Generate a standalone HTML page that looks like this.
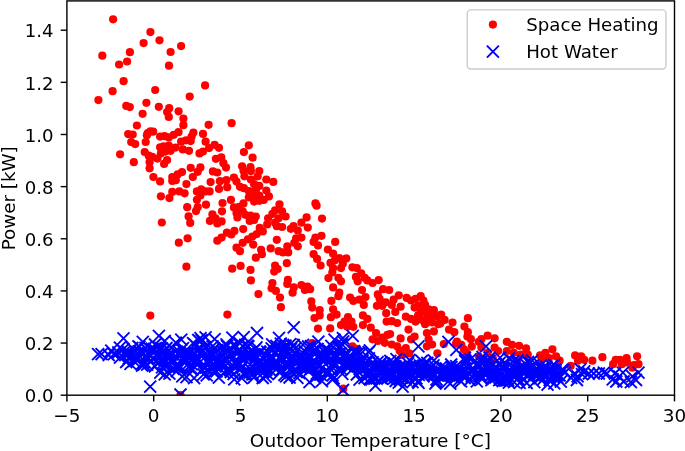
<!DOCTYPE html><html><head><meta charset="utf-8"><title>Power vs Outdoor Temperature</title>
<style>html,body{margin:0;padding:0;background:#fff;overflow:hidden}svg{display:block}text{font-family:"DejaVu Sans","Liberation Sans",sans-serif;fill:#000}</style></head><body>
<svg width="685" height="451" viewBox="0 0 685 451">
<rect width="685" height="451" fill="#fff"/>
<clipPath id="ax"><rect x="66.9" y="0.9" width="607.6" height="394.3"/></clipPath>
<g clip-path="url(#ax)">
<g fill="#ff0000">
<circle cx="113.1" cy="19.3" r="4.1"/>
<circle cx="150.4" cy="32.1" r="4.1"/>
<circle cx="159.5" cy="40.3" r="4.1"/>
<circle cx="143.6" cy="43.1" r="4.1"/>
<circle cx="181.1" cy="46.1" r="4.1"/>
<circle cx="129.9" cy="52.2" r="4.1"/>
<circle cx="170.6" cy="52.0" r="4.1"/>
<circle cx="102.3" cy="55.7" r="4.1"/>
<circle cx="127.1" cy="61.5" r="4.1"/>
<circle cx="119.1" cy="64.5" r="4.1"/>
<circle cx="169.0" cy="65.7" r="4.1"/>
<circle cx="123.6" cy="81.2" r="4.1"/>
<circle cx="112.6" cy="91.2" r="4.1"/>
<circle cx="98.4" cy="100.1" r="4.1"/>
<circle cx="155.2" cy="90.0" r="4.1"/>
<circle cx="205.1" cy="85.4" r="4.1"/>
<circle cx="189.7" cy="96.6" r="4.1"/>
<circle cx="126.3" cy="105.9" r="4.1"/>
<circle cx="129.8" cy="107.1" r="4.1"/>
<circle cx="146.4" cy="102.8" r="4.1"/>
<circle cx="158.8" cy="106.8" r="4.1"/>
<circle cx="142.6" cy="113.8" r="4.1"/>
<circle cx="169.2" cy="108.2" r="4.1"/>
<circle cx="167.1" cy="112.0" r="4.1"/>
<circle cx="168.8" cy="116.9" r="4.1"/>
<circle cx="178.6" cy="111.3" r="4.1"/>
<circle cx="183.4" cy="118.5" r="4.1"/>
<circle cx="183.4" cy="125.2" r="4.1"/>
<circle cx="136.9" cy="125.5" r="4.1"/>
<circle cx="208.6" cy="124.8" r="4.1"/>
<circle cx="128.2" cy="134.1" r="4.1"/>
<circle cx="132.7" cy="134.5" r="4.1"/>
<circle cx="147.8" cy="133.1" r="4.1"/>
<circle cx="150.4" cy="131.3" r="4.1"/>
<circle cx="153.1" cy="131.7" r="4.1"/>
<circle cx="146.9" cy="135.2" r="4.1"/>
<circle cx="160.1" cy="136.6" r="4.1"/>
<circle cx="164.5" cy="136.2" r="4.1"/>
<circle cx="168.8" cy="137.4" r="4.1"/>
<circle cx="173.7" cy="134.8" r="4.1"/>
<circle cx="178.5" cy="132.2" r="4.1"/>
<circle cx="193.4" cy="132.5" r="4.1"/>
<circle cx="191.6" cy="136.6" r="4.1"/>
<circle cx="203.0" cy="133.9" r="4.1"/>
<circle cx="131.2" cy="142.0" r="4.1"/>
<circle cx="135.2" cy="144.1" r="4.1"/>
<circle cx="145.7" cy="142.0" r="4.1"/>
<circle cx="120.1" cy="154.3" r="4.1"/>
<circle cx="133.8" cy="162.2" r="4.1"/>
<circle cx="144.7" cy="152.0" r="4.1"/>
<circle cx="148.7" cy="155.7" r="4.1"/>
<circle cx="152.2" cy="156.9" r="4.1"/>
<circle cx="149.6" cy="162.2" r="4.1"/>
<circle cx="149.6" cy="168.3" r="4.1"/>
<circle cx="157.4" cy="158.6" r="4.1"/>
<circle cx="160.1" cy="147.3" r="4.1"/>
<circle cx="163.6" cy="146.4" r="4.1"/>
<circle cx="168.8" cy="145.5" r="4.1"/>
<circle cx="165.3" cy="151.6" r="4.1"/>
<circle cx="170.6" cy="150.8" r="4.1"/>
<circle cx="175.5" cy="147.6" r="4.1"/>
<circle cx="160.9" cy="153.4" r="4.1"/>
<circle cx="181.1" cy="141.7" r="4.1"/>
<circle cx="186.0" cy="140.3" r="4.1"/>
<circle cx="190.7" cy="141.1" r="4.1"/>
<circle cx="182.8" cy="149.4" r="4.1"/>
<circle cx="189.0" cy="150.8" r="4.1"/>
<circle cx="205.6" cy="141.7" r="4.1"/>
<circle cx="199.5" cy="153.4" r="4.1"/>
<circle cx="203.0" cy="151.6" r="4.1"/>
<circle cx="209.1" cy="148.1" r="4.1"/>
<circle cx="167.1" cy="160.1" r="4.1"/>
<circle cx="164.1" cy="163.9" r="4.1"/>
<circle cx="153.4" cy="177.0" r="4.1"/>
<circle cx="160.1" cy="181.4" r="4.1"/>
<circle cx="190.7" cy="167.8" r="4.1"/>
<circle cx="200.4" cy="167.4" r="4.1"/>
<circle cx="197.7" cy="171.8" r="4.1"/>
<circle cx="192.8" cy="177.0" r="4.1"/>
<circle cx="182.0" cy="172.1" r="4.1"/>
<circle cx="177.6" cy="174.4" r="4.1"/>
<circle cx="172.3" cy="177.0" r="4.1"/>
<circle cx="175.8" cy="180.2" r="4.1"/>
<circle cx="172.3" cy="180.9" r="4.1"/>
<circle cx="186.4" cy="184.1" r="4.1"/>
<circle cx="160.9" cy="196.3" r="4.1"/>
<circle cx="169.4" cy="198.1" r="4.1"/>
<circle cx="172.3" cy="191.9" r="4.1"/>
<circle cx="179.3" cy="191.4" r="4.1"/>
<circle cx="184.6" cy="193.3" r="4.1"/>
<circle cx="196.9" cy="191.4" r="4.1"/>
<circle cx="201.2" cy="189.3" r="4.1"/>
<circle cx="205.6" cy="191.4" r="4.1"/>
<circle cx="200.4" cy="195.4" r="4.1"/>
<circle cx="196.9" cy="199.8" r="4.1"/>
<circle cx="209.6" cy="191.4" r="4.1"/>
<circle cx="206.0" cy="204.7" r="4.1"/>
<circle cx="187.2" cy="207.2" r="4.1"/>
<circle cx="197.7" cy="207.2" r="4.1"/>
<circle cx="196.0" cy="211.1" r="4.1"/>
<circle cx="188.6" cy="216.4" r="4.1"/>
<circle cx="190.2" cy="222.9" r="4.1"/>
<circle cx="161.8" cy="222.5" r="4.1"/>
<circle cx="187.6" cy="238.3" r="4.1"/>
<circle cx="178.8" cy="242.7" r="4.1"/>
<circle cx="186.4" cy="266.7" r="4.1"/>
<circle cx="150.3" cy="315.6" r="4.1"/>
<circle cx="231.6" cy="123.2" r="4.1"/>
<circle cx="214.6" cy="144.8" r="4.1"/>
<circle cx="219.0" cy="147.8" r="4.1"/>
<circle cx="248.8" cy="145.3" r="4.1"/>
<circle cx="243.9" cy="152.1" r="4.1"/>
<circle cx="252.6" cy="157.6" r="4.1"/>
<circle cx="215.9" cy="158.8" r="4.1"/>
<circle cx="221.3" cy="157.4" r="4.1"/>
<circle cx="223.4" cy="163.2" r="4.1"/>
<circle cx="226.0" cy="167.6" r="4.1"/>
<circle cx="212.9" cy="171.4" r="4.1"/>
<circle cx="217.3" cy="172.5" r="4.1"/>
<circle cx="242.1" cy="166.3" r="4.1"/>
<circle cx="250.5" cy="167.2" r="4.1"/>
<circle cx="250.9" cy="171.1" r="4.1"/>
<circle cx="243.5" cy="170.7" r="4.1"/>
<circle cx="259.3" cy="171.1" r="4.1"/>
<circle cx="257.6" cy="176.3" r="4.1"/>
<circle cx="244.4" cy="176.3" r="4.1"/>
<circle cx="233.9" cy="177.5" r="4.1"/>
<circle cx="236.5" cy="181.6" r="4.1"/>
<circle cx="210.6" cy="182.1" r="4.1"/>
<circle cx="219.9" cy="181.2" r="4.1"/>
<circle cx="226.4" cy="180.2" r="4.1"/>
<circle cx="227.2" cy="187.2" r="4.1"/>
<circle cx="266.3" cy="179.5" r="4.1"/>
<circle cx="273.3" cy="181.9" r="4.1"/>
<circle cx="250.9" cy="179.5" r="4.1"/>
<circle cx="254.1" cy="184.2" r="4.1"/>
<circle cx="259.3" cy="185.9" r="4.1"/>
<circle cx="240.0" cy="186.8" r="4.1"/>
<circle cx="243.9" cy="188.2" r="4.1"/>
<circle cx="219.0" cy="188.9" r="4.1"/>
<circle cx="248.8" cy="191.1" r="4.1"/>
<circle cx="255.8" cy="190.3" r="4.1"/>
<circle cx="266.3" cy="190.6" r="4.1"/>
<circle cx="252.3" cy="195.5" r="4.1"/>
<circle cx="259.3" cy="195.5" r="4.1"/>
<circle cx="268.9" cy="196.4" r="4.1"/>
<circle cx="263.7" cy="199.9" r="4.1"/>
<circle cx="254.1" cy="201.6" r="4.1"/>
<circle cx="248.8" cy="197.3" r="4.1"/>
<circle cx="259.3" cy="200.8" r="4.1"/>
<circle cx="230.9" cy="199.9" r="4.1"/>
<circle cx="222.5" cy="203.0" r="4.1"/>
<circle cx="222.0" cy="211.3" r="4.1"/>
<circle cx="243.5" cy="203.4" r="4.1"/>
<circle cx="233.9" cy="207.4" r="4.1"/>
<circle cx="239.2" cy="206.9" r="4.1"/>
<circle cx="236.5" cy="213.0" r="4.1"/>
<circle cx="242.7" cy="211.3" r="4.1"/>
<circle cx="245.3" cy="214.8" r="4.1"/>
<circle cx="237.4" cy="217.4" r="4.1"/>
<circle cx="250.5" cy="215.7" r="4.1"/>
<circle cx="255.8" cy="216.5" r="4.1"/>
<circle cx="249.7" cy="220.9" r="4.1"/>
<circle cx="254.1" cy="220.0" r="4.1"/>
<circle cx="212.4" cy="214.4" r="4.1"/>
<circle cx="209.9" cy="220.9" r="4.1"/>
<circle cx="217.3" cy="223.5" r="4.1"/>
<circle cx="221.6" cy="221.4" r="4.1"/>
<circle cx="215.5" cy="218.3" r="4.1"/>
<circle cx="279.5" cy="204.3" r="4.1"/>
<circle cx="275.1" cy="210.4" r="4.1"/>
<circle cx="282.1" cy="211.3" r="4.1"/>
<circle cx="272.4" cy="213.9" r="4.1"/>
<circle cx="285.6" cy="216.5" r="4.1"/>
<circle cx="268.1" cy="218.3" r="4.1"/>
<circle cx="278.6" cy="218.3" r="4.1"/>
<circle cx="275.1" cy="222.7" r="4.1"/>
<circle cx="267.2" cy="224.4" r="4.1"/>
<circle cx="282.1" cy="227.0" r="4.1"/>
<circle cx="276.8" cy="226.2" r="4.1"/>
<circle cx="315.4" cy="203.4" r="4.1"/>
<circle cx="316.6" cy="205.7" r="4.1"/>
<circle cx="306.6" cy="217.4" r="4.1"/>
<circle cx="322.0" cy="218.6" r="4.1"/>
<circle cx="301.4" cy="222.7" r="4.1"/>
<circle cx="307.8" cy="227.6" r="4.1"/>
<circle cx="293.5" cy="226.2" r="4.1"/>
<circle cx="290.8" cy="228.8" r="4.1"/>
<circle cx="297.8" cy="230.5" r="4.1"/>
<circle cx="259.7" cy="227.9" r="4.1"/>
<circle cx="262.8" cy="231.4" r="4.1"/>
<circle cx="256.7" cy="234.1" r="4.1"/>
<circle cx="252.3" cy="236.7" r="4.1"/>
<circle cx="247.9" cy="239.3" r="4.1"/>
<circle cx="242.7" cy="242.8" r="4.1"/>
<circle cx="253.2" cy="244.6" r="4.1"/>
<circle cx="243.2" cy="229.1" r="4.1"/>
<circle cx="234.4" cy="230.9" r="4.1"/>
<circle cx="231.3" cy="234.4" r="4.1"/>
<circle cx="226.9" cy="232.6" r="4.1"/>
<circle cx="221.6" cy="237.6" r="4.1"/>
<circle cx="217.3" cy="240.7" r="4.1"/>
<circle cx="276.8" cy="239.8" r="4.1"/>
<circle cx="296.1" cy="238.4" r="4.1"/>
<circle cx="301.4" cy="237.6" r="4.1"/>
<circle cx="294.3" cy="242.8" r="4.1"/>
<circle cx="297.8" cy="246.3" r="4.1"/>
<circle cx="315.4" cy="237.6" r="4.1"/>
<circle cx="321.5" cy="235.8" r="4.1"/>
<circle cx="313.6" cy="241.9" r="4.1"/>
<circle cx="318.0" cy="245.4" r="4.1"/>
<circle cx="287.3" cy="246.3" r="4.1"/>
<circle cx="270.7" cy="248.4" r="4.1"/>
<circle cx="278.6" cy="251.2" r="4.1"/>
<circle cx="283.0" cy="252.4" r="4.1"/>
<circle cx="288.2" cy="252.4" r="4.1"/>
<circle cx="236.5" cy="247.7" r="4.1"/>
<circle cx="240.0" cy="251.2" r="4.1"/>
<circle cx="261.1" cy="249.8" r="4.1"/>
<circle cx="261.9" cy="254.2" r="4.1"/>
<circle cx="255.8" cy="257.7" r="4.1"/>
<circle cx="313.6" cy="254.2" r="4.1"/>
<circle cx="317.1" cy="258.9" r="4.1"/>
<circle cx="232.2" cy="268.7" r="4.1"/>
<circle cx="240.6" cy="265.9" r="4.1"/>
<circle cx="250.5" cy="269.9" r="4.1"/>
<circle cx="250.9" cy="280.4" r="4.1"/>
<circle cx="275.1" cy="265.5" r="4.1"/>
<circle cx="277.7" cy="269.0" r="4.1"/>
<circle cx="274.2" cy="271.6" r="4.1"/>
<circle cx="286.8" cy="263.2" r="4.1"/>
<circle cx="320.6" cy="265.5" r="4.1"/>
<circle cx="272.4" cy="283.0" r="4.1"/>
<circle cx="271.6" cy="288.3" r="4.1"/>
<circle cx="275.9" cy="290.9" r="4.1"/>
<circle cx="287.9" cy="279.9" r="4.1"/>
<circle cx="287.3" cy="283.9" r="4.1"/>
<circle cx="293.8" cy="287.4" r="4.1"/>
<circle cx="292.6" cy="292.7" r="4.1"/>
<circle cx="301.4" cy="285.1" r="4.1"/>
<circle cx="307.5" cy="286.5" r="4.1"/>
<circle cx="310.1" cy="289.2" r="4.1"/>
<circle cx="304.9" cy="290.0" r="4.1"/>
<circle cx="258.4" cy="294.1" r="4.1"/>
<circle cx="280.0" cy="297.6" r="4.1"/>
<circle cx="280.9" cy="307.2" r="4.1"/>
<circle cx="311.3" cy="301.4" r="4.1"/>
<circle cx="312.2" cy="307.6" r="4.1"/>
<circle cx="319.7" cy="310.2" r="4.1"/>
<circle cx="319.7" cy="315.4" r="4.1"/>
<circle cx="314.5" cy="318.1" r="4.1"/>
<circle cx="318.0" cy="328.6" r="4.1"/>
<circle cx="227.4" cy="314.6" r="4.1"/>
<circle cx="335.2" cy="241.9" r="4.1"/>
<circle cx="327.9" cy="249.5" r="4.1"/>
<circle cx="333.1" cy="253.7" r="4.1"/>
<circle cx="339.3" cy="258.2" r="4.1"/>
<circle cx="346.3" cy="258.4" r="4.1"/>
<circle cx="330.5" cy="262.9" r="4.1"/>
<circle cx="334.9" cy="260.3" r="4.1"/>
<circle cx="342.8" cy="263.8" r="4.1"/>
<circle cx="333.1" cy="268.1" r="4.1"/>
<circle cx="341.0" cy="268.1" r="4.1"/>
<circle cx="332.3" cy="272.5" r="4.1"/>
<circle cx="328.4" cy="278.1" r="4.1"/>
<circle cx="338.4" cy="277.8" r="4.1"/>
<circle cx="341.0" cy="281.3" r="4.1"/>
<circle cx="333.1" cy="287.4" r="4.1"/>
<circle cx="339.3" cy="292.7" r="4.1"/>
<circle cx="338.4" cy="296.2" r="4.1"/>
<circle cx="331.4" cy="300.9" r="4.1"/>
<circle cx="333.1" cy="309.3" r="4.1"/>
<circle cx="336.6" cy="314.6" r="4.1"/>
<circle cx="330.9" cy="317.2" r="4.1"/>
<circle cx="352.4" cy="267.3" r="4.1"/>
<circle cx="356.8" cy="268.1" r="4.1"/>
<circle cx="361.2" cy="273.4" r="4.1"/>
<circle cx="355.9" cy="276.9" r="4.1"/>
<circle cx="357.7" cy="281.3" r="4.1"/>
<circle cx="364.7" cy="277.8" r="4.1"/>
<circle cx="367.3" cy="280.4" r="4.1"/>
<circle cx="372.6" cy="283.0" r="4.1"/>
<circle cx="378.7" cy="280.1" r="4.1"/>
<circle cx="362.0" cy="290.0" r="4.1"/>
<circle cx="365.5" cy="297.0" r="4.1"/>
<circle cx="350.1" cy="297.6" r="4.1"/>
<circle cx="353.3" cy="300.9" r="4.1"/>
<circle cx="359.4" cy="299.7" r="4.1"/>
<circle cx="363.8" cy="304.9" r="4.1"/>
<circle cx="377.8" cy="294.4" r="4.1"/>
<circle cx="379.6" cy="298.8" r="4.1"/>
<circle cx="376.9" cy="305.8" r="4.1"/>
<circle cx="383.1" cy="289.2" r="4.1"/>
<circle cx="389.2" cy="290.0" r="4.1"/>
<circle cx="385.7" cy="302.3" r="4.1"/>
<circle cx="382.2" cy="305.8" r="4.1"/>
<circle cx="398.8" cy="295.3" r="4.1"/>
<circle cx="393.6" cy="299.7" r="4.1"/>
<circle cx="391.8" cy="304.9" r="4.1"/>
<circle cx="400.6" cy="306.7" r="4.1"/>
<circle cx="395.3" cy="311.9" r="4.1"/>
<circle cx="386.2" cy="313.2" r="4.1"/>
<circle cx="406.7" cy="297.9" r="4.1"/>
<circle cx="411.1" cy="300.5" r="4.1"/>
<circle cx="415.5" cy="298.8" r="4.1"/>
<circle cx="420.7" cy="296.2" r="4.1"/>
<circle cx="423.4" cy="300.5" r="4.1"/>
<circle cx="425.1" cy="304.9" r="4.1"/>
<circle cx="418.1" cy="305.8" r="4.1"/>
<circle cx="414.6" cy="307.6" r="4.1"/>
<circle cx="433.9" cy="310.2" r="4.1"/>
<circle cx="428.6" cy="309.3" r="4.1"/>
<circle cx="424.2" cy="311.1" r="4.1"/>
<circle cx="420.7" cy="312.8" r="4.1"/>
<circle cx="418.1" cy="315.4" r="4.1"/>
<circle cx="405.8" cy="316.7" r="4.1"/>
<circle cx="411.1" cy="318.9" r="4.1"/>
<circle cx="415.5" cy="321.6" r="4.1"/>
<circle cx="421.6" cy="319.8" r="4.1"/>
<circle cx="427.7" cy="317.2" r="4.1"/>
<circle cx="432.1" cy="315.4" r="4.1"/>
<circle cx="437.4" cy="316.3" r="4.1"/>
<circle cx="425.1" cy="324.2" r="4.1"/>
<circle cx="432.1" cy="322.4" r="4.1"/>
<circle cx="438.2" cy="324.2" r="4.1"/>
<circle cx="386.6" cy="321.6" r="4.1"/>
<circle cx="391.8" cy="321.2" r="4.1"/>
<circle cx="397.1" cy="323.0" r="4.1"/>
<circle cx="362.9" cy="315.4" r="4.1"/>
<circle cx="367.3" cy="318.9" r="4.1"/>
<circle cx="362.9" cy="325.1" r="4.1"/>
<circle cx="370.8" cy="327.7" r="4.1"/>
<circle cx="348.0" cy="317.2" r="4.1"/>
<circle cx="344.5" cy="321.6" r="4.1"/>
<circle cx="351.5" cy="321.6" r="4.1"/>
<circle cx="341.0" cy="325.1" r="4.1"/>
<circle cx="347.2" cy="326.8" r="4.1"/>
<circle cx="353.3" cy="326.8" r="4.1"/>
<circle cx="330.2" cy="328.4" r="4.1"/>
<circle cx="376.1" cy="333.1" r="4.1"/>
<circle cx="372.6" cy="339.3" r="4.1"/>
<circle cx="377.8" cy="341.0" r="4.1"/>
<circle cx="382.2" cy="337.5" r="4.1"/>
<circle cx="387.4" cy="334.9" r="4.1"/>
<circle cx="390.1" cy="334.0" r="4.1"/>
<circle cx="384.8" cy="342.8" r="4.1"/>
<circle cx="391.8" cy="344.5" r="4.1"/>
<circle cx="397.1" cy="346.3" r="4.1"/>
<circle cx="400.6" cy="338.4" r="4.1"/>
<circle cx="399.7" cy="350.7" r="4.1"/>
<circle cx="405.8" cy="348.0" r="4.1"/>
<circle cx="409.3" cy="353.3" r="4.1"/>
<circle cx="402.3" cy="355.0" r="4.1"/>
<circle cx="408.5" cy="329.6" r="4.1"/>
<circle cx="414.6" cy="336.6" r="4.1"/>
<circle cx="411.1" cy="339.3" r="4.1"/>
<circle cx="426.9" cy="333.1" r="4.1"/>
<circle cx="433.9" cy="331.4" r="4.1"/>
<circle cx="428.6" cy="339.3" r="4.1"/>
<circle cx="432.1" cy="344.5" r="4.1"/>
<circle cx="426.9" cy="346.3" r="4.1"/>
<circle cx="437.4" cy="353.3" r="4.1"/>
<circle cx="352.4" cy="346.3" r="4.1"/>
<circle cx="356.8" cy="348.9" r="4.1"/>
<circle cx="343.3" cy="388.7" r="4.1"/>
<circle cx="441.1" cy="314.7" r="4.1"/>
<circle cx="444.6" cy="319.9" r="4.1"/>
<circle cx="440.3" cy="323.4" r="4.1"/>
<circle cx="452.5" cy="322.6" r="4.1"/>
<circle cx="449.0" cy="329.6" r="4.1"/>
<circle cx="454.3" cy="332.2" r="4.1"/>
<circle cx="467.9" cy="318.2" r="4.1"/>
<circle cx="464.4" cy="326.6" r="4.1"/>
<circle cx="467.9" cy="332.2" r="4.1"/>
<circle cx="467.4" cy="336.6" r="4.1"/>
<circle cx="470.9" cy="339.2" r="4.1"/>
<circle cx="456.9" cy="341.5" r="4.1"/>
<circle cx="487.6" cy="335.7" r="4.1"/>
<circle cx="494.6" cy="338.3" r="4.1"/>
<circle cx="481.4" cy="339.2" r="4.1"/>
<circle cx="478.8" cy="341.8" r="4.1"/>
<circle cx="506.8" cy="341.8" r="4.1"/>
<circle cx="443.8" cy="344.0" r="4.1"/>
<circle cx="456.0" cy="343.7" r="4.1"/>
<circle cx="461.3" cy="344.9" r="4.1"/>
<circle cx="471.8" cy="346.6" r="4.1"/>
<circle cx="463.9" cy="349.3" r="4.1"/>
<circle cx="466.5" cy="352.8" r="4.1"/>
<circle cx="481.4" cy="347.5" r="4.1"/>
<circle cx="487.6" cy="352.8" r="4.1"/>
<circle cx="478.8" cy="356.3" r="4.1"/>
<circle cx="494.6" cy="347.5" r="4.1"/>
<circle cx="498.1" cy="351.0" r="4.1"/>
<circle cx="492.8" cy="358.0" r="4.1"/>
<circle cx="484.1" cy="361.5" r="4.1"/>
<circle cx="489.3" cy="366.8" r="4.1"/>
<circle cx="512.1" cy="344.9" r="4.1"/>
<circle cx="519.1" cy="345.8" r="4.1"/>
<circle cx="526.1" cy="348.4" r="4.1"/>
<circle cx="506.8" cy="351.0" r="4.1"/>
<circle cx="513.8" cy="352.8" r="4.1"/>
<circle cx="520.8" cy="354.5" r="4.1"/>
<circle cx="527.8" cy="354.5" r="4.1"/>
<circle cx="517.3" cy="361.5" r="4.1"/>
<circle cx="540.1" cy="355.4" r="4.1"/>
<circle cx="545.4" cy="352.8" r="4.1"/>
<circle cx="552.4" cy="349.3" r="4.1"/>
<circle cx="541.9" cy="359.8" r="4.1"/>
<circle cx="548.9" cy="358.0" r="4.1"/>
<circle cx="556.1" cy="356.3" r="4.1"/>
<circle cx="559.6" cy="360.7" r="4.1"/>
<circle cx="557.9" cy="365.0" r="4.1"/>
<circle cx="575.1" cy="355.4" r="4.1"/>
<circle cx="581.2" cy="356.3" r="4.1"/>
<circle cx="584.2" cy="359.8" r="4.1"/>
<circle cx="578.0" cy="360.7" r="4.1"/>
<circle cx="570.7" cy="365.9" r="4.1"/>
<circle cx="592.4" cy="360.7" r="4.1"/>
<circle cx="602.4" cy="357.2" r="4.1"/>
<circle cx="615.7" cy="359.8" r="4.1"/>
<circle cx="620.1" cy="359.8" r="4.1"/>
<circle cx="626.6" cy="358.0" r="4.1"/>
<circle cx="613.1" cy="364.2" r="4.1"/>
<circle cx="621.8" cy="364.2" r="4.1"/>
<circle cx="627.1" cy="362.4" r="4.1"/>
<circle cx="637.1" cy="356.3" r="4.1"/>
<circle cx="638.5" cy="364.2" r="4.1"/>
<circle cx="632.3" cy="367.7" r="4.1"/>
<circle cx="634.1" cy="365.0" r="4.1"/>
<circle cx="312.0" cy="343.0" r="4.1"/>
<circle cx="180.5" cy="395.2" r="4.1"/>
</g>
<g stroke="#0000ff" stroke-width="1.9" fill="none">
<path d="M113.9 341.6l12.0 12.0m0 -12.0l-12.0 12.0M118.2 346.2l12.0 12.0m0 -12.0l-12.0 12.0M122.7 347.3l12.0 12.0m0 -12.0l-12.0 12.0M126.9 348.2l12.0 12.0m0 -12.0l-12.0 12.0M129.9 350.7l12.0 12.0m0 -12.0l-12.0 12.0M130.9 347.4l12.0 12.0m0 -12.0l-12.0 12.0M132.0 353.5l12.0 12.0m0 -12.0l-12.0 12.0M133.4 340.9l12.0 12.0m0 -12.0l-12.0 12.0M136.1 359.6l12.0 12.0m0 -12.0l-12.0 12.0M137.1 347.9l12.0 12.0m0 -12.0l-12.0 12.0M137.8 358.5l12.0 12.0m0 -12.0l-12.0 12.0M139.1 351.0l12.0 12.0m0 -12.0l-12.0 12.0M140.8 350.3l12.0 12.0m0 -12.0l-12.0 12.0M142.6 352.1l12.0 12.0m0 -12.0l-12.0 12.0M144.0 355.3l12.0 12.0m0 -12.0l-12.0 12.0M145.7 342.6l12.0 12.0m0 -12.0l-12.0 12.0M146.9 345.9l12.0 12.0m0 -12.0l-12.0 12.0M148.1 343.0l12.0 12.0m0 -12.0l-12.0 12.0M150.5 350.2l12.0 12.0m0 -12.0l-12.0 12.0M151.5 348.4l12.0 12.0m0 -12.0l-12.0 12.0M152.4 356.4l12.0 12.0m0 -12.0l-12.0 12.0M153.5 351.8l12.0 12.0m0 -12.0l-12.0 12.0M156.0 342.3l12.0 12.0m0 -12.0l-12.0 12.0M156.8 346.8l12.0 12.0m0 -12.0l-12.0 12.0M157.7 356.3l12.0 12.0m0 -12.0l-12.0 12.0M159.8 360.8l12.0 12.0m0 -12.0l-12.0 12.0M160.7 350.5l12.0 12.0m0 -12.0l-12.0 12.0M162.4 353.2l12.0 12.0m0 -12.0l-12.0 12.0M162.6 344.4l12.0 12.0m0 -12.0l-12.0 12.0M163.4 367.7l12.0 12.0m0 -12.0l-12.0 12.0M163.8 348.3l12.0 12.0m0 -12.0l-12.0 12.0M164.5 354.8l12.0 12.0m0 -12.0l-12.0 12.0M165.4 354.2l12.0 12.0m0 -12.0l-12.0 12.0M165.7 342.2l12.0 12.0m0 -12.0l-12.0 12.0M166.3 348.3l12.0 12.0m0 -12.0l-12.0 12.0M167.2 362.1l12.0 12.0m0 -12.0l-12.0 12.0M167.4 362.9l12.0 12.0m0 -12.0l-12.0 12.0M168.2 354.3l12.0 12.0m0 -12.0l-12.0 12.0M169.1 360.4l12.0 12.0m0 -12.0l-12.0 12.0M169.6 345.4l12.0 12.0m0 -12.0l-12.0 12.0M169.8 336.7l12.0 12.0m0 -12.0l-12.0 12.0M170.7 365.2l12.0 12.0m0 -12.0l-12.0 12.0M170.9 359.9l12.0 12.0m0 -12.0l-12.0 12.0M171.6 352.3l12.0 12.0m0 -12.0l-12.0 12.0M172.5 348.6l12.0 12.0m0 -12.0l-12.0 12.0M172.7 360.7l12.0 12.0m0 -12.0l-12.0 12.0M173.3 346.0l12.0 12.0m0 -12.0l-12.0 12.0M174.2 349.0l12.0 12.0m0 -12.0l-12.0 12.0M174.7 361.0l12.0 12.0m0 -12.0l-12.0 12.0M175.3 333.6l12.0 12.0m0 -12.0l-12.0 12.0M175.7 343.3l12.0 12.0m0 -12.0l-12.0 12.0M176.3 370.3l12.0 12.0m0 -12.0l-12.0 12.0M177.0 342.2l12.0 12.0m0 -12.0l-12.0 12.0M177.5 351.6l12.0 12.0m0 -12.0l-12.0 12.0M178.1 346.3l12.0 12.0m0 -12.0l-12.0 12.0M179.0 348.8l12.0 12.0m0 -12.0l-12.0 12.0M179.2 356.0l12.0 12.0m0 -12.0l-12.0 12.0M180.3 354.7l12.0 12.0m0 -12.0l-12.0 12.0M180.5 371.2l12.0 12.0m0 -12.0l-12.0 12.0M181.5 345.6l12.0 12.0m0 -12.0l-12.0 12.0M181.7 348.0l12.0 12.0m0 -12.0l-12.0 12.0M182.6 360.9l12.0 12.0m0 -12.0l-12.0 12.0M183.1 356.8l12.0 12.0m0 -12.0l-12.0 12.0M183.8 346.3l12.0 12.0m0 -12.0l-12.0 12.0M184.5 347.1l12.0 12.0m0 -12.0l-12.0 12.0M184.6 362.5l12.0 12.0m0 -12.0l-12.0 12.0M185.4 354.3l12.0 12.0m0 -12.0l-12.0 12.0M185.7 358.3l12.0 12.0m0 -12.0l-12.0 12.0M186.6 363.4l12.0 12.0m0 -12.0l-12.0 12.0M187.0 337.1l12.0 12.0m0 -12.0l-12.0 12.0M188.1 372.2l12.0 12.0m0 -12.0l-12.0 12.0M188.5 347.5l12.0 12.0m0 -12.0l-12.0 12.0M188.7 338.4l12.0 12.0m0 -12.0l-12.0 12.0M189.3 356.1l12.0 12.0m0 -12.0l-12.0 12.0M190.3 355.5l12.0 12.0m0 -12.0l-12.0 12.0M190.8 352.5l12.0 12.0m0 -12.0l-12.0 12.0M191.3 351.8l12.0 12.0m0 -12.0l-12.0 12.0M192.2 342.5l12.0 12.0m0 -12.0l-12.0 12.0M192.3 334.0l12.0 12.0m0 -12.0l-12.0 12.0M193.3 347.3l12.0 12.0m0 -12.0l-12.0 12.0M193.8 346.8l12.0 12.0m0 -12.0l-12.0 12.0M194.5 332.2l12.0 12.0m0 -12.0l-12.0 12.0M194.7 342.6l12.0 12.0m0 -12.0l-12.0 12.0M195.5 334.2l12.0 12.0m0 -12.0l-12.0 12.0M196.0 363.8l12.0 12.0m0 -12.0l-12.0 12.0M196.4 344.5l12.0 12.0m0 -12.0l-12.0 12.0M196.9 344.6l12.0 12.0m0 -12.0l-12.0 12.0M197.5 368.3l12.0 12.0m0 -12.0l-12.0 12.0M198.2 361.5l12.0 12.0m0 -12.0l-12.0 12.0M198.7 351.4l12.0 12.0m0 -12.0l-12.0 12.0M199.1 341.1l12.0 12.0m0 -12.0l-12.0 12.0M199.6 331.4l12.0 12.0m0 -12.0l-12.0 12.0M199.8 361.6l12.0 12.0m0 -12.0l-12.0 12.0M200.7 369.3l12.0 12.0m0 -12.0l-12.0 12.0M201.1 356.2l12.0 12.0m0 -12.0l-12.0 12.0M201.5 348.6l12.0 12.0m0 -12.0l-12.0 12.0M202.2 339.6l12.0 12.0m0 -12.0l-12.0 12.0M202.9 353.1l12.0 12.0m0 -12.0l-12.0 12.0M203.1 355.0l12.0 12.0m0 -12.0l-12.0 12.0M203.8 355.3l12.0 12.0m0 -12.0l-12.0 12.0M204.5 360.3l12.0 12.0m0 -12.0l-12.0 12.0M204.9 362.3l12.0 12.0m0 -12.0l-12.0 12.0M205.2 349.1l12.0 12.0m0 -12.0l-12.0 12.0M205.8 346.2l12.0 12.0m0 -12.0l-12.0 12.0M206.5 340.4l12.0 12.0m0 -12.0l-12.0 12.0M206.8 344.0l12.0 12.0m0 -12.0l-12.0 12.0M207.2 347.9l12.0 12.0m0 -12.0l-12.0 12.0M207.9 365.5l12.0 12.0m0 -12.0l-12.0 12.0M208.6 333.2l12.0 12.0m0 -12.0l-12.0 12.0M209.2 352.0l12.0 12.0m0 -12.0l-12.0 12.0M209.5 360.5l12.0 12.0m0 -12.0l-12.0 12.0M209.9 356.1l12.0 12.0m0 -12.0l-12.0 12.0M210.6 365.4l12.0 12.0m0 -12.0l-12.0 12.0M211.1 344.1l12.0 12.0m0 -12.0l-12.0 12.0M211.9 348.8l12.0 12.0m0 -12.0l-12.0 12.0M211.9 354.7l12.0 12.0m0 -12.0l-12.0 12.0M212.8 371.6l12.0 12.0m0 -12.0l-12.0 12.0M213.2 358.2l12.0 12.0m0 -12.0l-12.0 12.0M213.6 353.9l12.0 12.0m0 -12.0l-12.0 12.0M214.0 351.0l12.0 12.0m0 -12.0l-12.0 12.0M214.7 356.8l12.0 12.0m0 -12.0l-12.0 12.0M215.1 355.7l12.0 12.0m0 -12.0l-12.0 12.0M215.9 356.3l12.0 12.0m0 -12.0l-12.0 12.0M216.3 341.4l12.0 12.0m0 -12.0l-12.0 12.0M217.0 340.6l12.0 12.0m0 -12.0l-12.0 12.0M217.6 350.2l12.0 12.0m0 -12.0l-12.0 12.0M217.9 346.1l12.0 12.0m0 -12.0l-12.0 12.0M218.3 366.9l12.0 12.0m0 -12.0l-12.0 12.0M219.1 354.3l12.0 12.0m0 -12.0l-12.0 12.0M219.3 351.9l12.0 12.0m0 -12.0l-12.0 12.0M220.1 364.4l12.0 12.0m0 -12.0l-12.0 12.0M220.5 338.3l12.0 12.0m0 -12.0l-12.0 12.0M221.0 340.2l12.0 12.0m0 -12.0l-12.0 12.0M221.7 357.7l12.0 12.0m0 -12.0l-12.0 12.0M222.3 350.6l12.0 12.0m0 -12.0l-12.0 12.0M222.7 362.5l12.0 12.0m0 -12.0l-12.0 12.0M223.2 363.1l12.0 12.0m0 -12.0l-12.0 12.0M223.9 342.4l12.0 12.0m0 -12.0l-12.0 12.0M224.4 364.3l12.0 12.0m0 -12.0l-12.0 12.0M224.9 366.0l12.0 12.0m0 -12.0l-12.0 12.0M225.3 348.9l12.0 12.0m0 -12.0l-12.0 12.0M225.6 349.6l12.0 12.0m0 -12.0l-12.0 12.0M226.4 331.6l12.0 12.0m0 -12.0l-12.0 12.0M226.9 359.3l12.0 12.0m0 -12.0l-12.0 12.0M227.6 368.1l12.0 12.0m0 -12.0l-12.0 12.0M228.0 351.2l12.0 12.0m0 -12.0l-12.0 12.0M228.3 373.3l12.0 12.0m0 -12.0l-12.0 12.0M228.9 340.6l12.0 12.0m0 -12.0l-12.0 12.0M229.2 339.1l12.0 12.0m0 -12.0l-12.0 12.0M230.1 358.8l12.0 12.0m0 -12.0l-12.0 12.0M230.5 357.2l12.0 12.0m0 -12.0l-12.0 12.0M230.8 355.5l12.0 12.0m0 -12.0l-12.0 12.0M231.5 346.1l12.0 12.0m0 -12.0l-12.0 12.0M232.2 357.6l12.0 12.0m0 -12.0l-12.0 12.0M232.6 358.5l12.0 12.0m0 -12.0l-12.0 12.0M233.3 363.1l12.0 12.0m0 -12.0l-12.0 12.0M233.9 337.4l12.0 12.0m0 -12.0l-12.0 12.0M234.2 358.0l12.0 12.0m0 -12.0l-12.0 12.0M234.6 351.5l12.0 12.0m0 -12.0l-12.0 12.0M235.3 348.2l12.0 12.0m0 -12.0l-12.0 12.0M235.8 372.2l12.0 12.0m0 -12.0l-12.0 12.0M236.3 361.7l12.0 12.0m0 -12.0l-12.0 12.0M236.7 340.0l12.0 12.0m0 -12.0l-12.0 12.0M237.3 367.8l12.0 12.0m0 -12.0l-12.0 12.0M237.7 331.2l12.0 12.0m0 -12.0l-12.0 12.0M238.6 367.6l12.0 12.0m0 -12.0l-12.0 12.0M239.0 350.0l12.0 12.0m0 -12.0l-12.0 12.0M239.3 338.8l12.0 12.0m0 -12.0l-12.0 12.0M240.0 349.6l12.0 12.0m0 -12.0l-12.0 12.0M240.2 367.5l12.0 12.0m0 -12.0l-12.0 12.0M241.0 350.0l12.0 12.0m0 -12.0l-12.0 12.0M241.7 339.6l12.0 12.0m0 -12.0l-12.0 12.0M242.2 347.3l12.0 12.0m0 -12.0l-12.0 12.0M242.4 340.4l12.0 12.0m0 -12.0l-12.0 12.0M243.4 349.7l12.0 12.0m0 -12.0l-12.0 12.0M243.9 351.1l12.0 12.0m0 -12.0l-12.0 12.0M244.0 366.7l12.0 12.0m0 -12.0l-12.0 12.0M244.7 363.5l12.0 12.0m0 -12.0l-12.0 12.0M245.2 349.4l12.0 12.0m0 -12.0l-12.0 12.0M245.8 360.1l12.0 12.0m0 -12.0l-12.0 12.0M246.5 367.6l12.0 12.0m0 -12.0l-12.0 12.0M246.5 368.4l12.0 12.0m0 -12.0l-12.0 12.0M247.2 355.4l12.0 12.0m0 -12.0l-12.0 12.0M247.8 371.5l12.0 12.0m0 -12.0l-12.0 12.0M248.3 348.3l12.0 12.0m0 -12.0l-12.0 12.0M249.0 348.5l12.0 12.0m0 -12.0l-12.0 12.0M249.2 343.1l12.0 12.0m0 -12.0l-12.0 12.0M249.8 351.9l12.0 12.0m0 -12.0l-12.0 12.0M250.5 341.3l12.0 12.0m0 -12.0l-12.0 12.0M251.0 357.2l12.0 12.0m0 -12.0l-12.0 12.0M251.5 357.1l12.0 12.0m0 -12.0l-12.0 12.0M252.1 359.7l12.0 12.0m0 -12.0l-12.0 12.0M252.7 348.0l12.0 12.0m0 -12.0l-12.0 12.0M253.2 358.3l12.0 12.0m0 -12.0l-12.0 12.0M253.8 345.5l12.0 12.0m0 -12.0l-12.0 12.0M254.3 361.6l12.0 12.0m0 -12.0l-12.0 12.0M254.6 346.4l12.0 12.0m0 -12.0l-12.0 12.0M255.4 361.6l12.0 12.0m0 -12.0l-12.0 12.0M255.9 358.8l12.0 12.0m0 -12.0l-12.0 12.0M256.4 359.6l12.0 12.0m0 -12.0l-12.0 12.0M256.7 372.0l12.0 12.0m0 -12.0l-12.0 12.0M257.3 366.2l12.0 12.0m0 -12.0l-12.0 12.0M258.0 361.6l12.0 12.0m0 -12.0l-12.0 12.0M258.5 361.8l12.0 12.0m0 -12.0l-12.0 12.0M258.6 358.5l12.0 12.0m0 -12.0l-12.0 12.0M259.6 370.7l12.0 12.0m0 -12.0l-12.0 12.0M260.2 363.8l12.0 12.0m0 -12.0l-12.0 12.0M260.6 362.6l12.0 12.0m0 -12.0l-12.0 12.0M261.0 349.8l12.0 12.0m0 -12.0l-12.0 12.0M261.3 345.6l12.0 12.0m0 -12.0l-12.0 12.0M261.8 368.1l12.0 12.0m0 -12.0l-12.0 12.0M262.6 356.6l12.0 12.0m0 -12.0l-12.0 12.0M263.1 357.8l12.0 12.0m0 -12.0l-12.0 12.0M263.5 359.3l12.0 12.0m0 -12.0l-12.0 12.0M264.3 351.4l12.0 12.0m0 -12.0l-12.0 12.0M264.4 364.5l12.0 12.0m0 -12.0l-12.0 12.0M265.2 354.1l12.0 12.0m0 -12.0l-12.0 12.0M265.7 342.4l12.0 12.0m0 -12.0l-12.0 12.0M266.2 338.3l12.0 12.0m0 -12.0l-12.0 12.0M266.5 360.2l12.0 12.0m0 -12.0l-12.0 12.0M267.4 357.5l12.0 12.0m0 -12.0l-12.0 12.0M267.8 346.9l12.0 12.0m0 -12.0l-12.0 12.0M268.5 346.7l12.0 12.0m0 -12.0l-12.0 12.0M268.7 357.7l12.0 12.0m0 -12.0l-12.0 12.0M269.4 355.8l12.0 12.0m0 -12.0l-12.0 12.0M270.1 346.6l12.0 12.0m0 -12.0l-12.0 12.0M270.5 339.9l12.0 12.0m0 -12.0l-12.0 12.0M271.0 362.6l12.0 12.0m0 -12.0l-12.0 12.0M271.7 356.5l12.0 12.0m0 -12.0l-12.0 12.0M272.2 344.7l12.0 12.0m0 -12.0l-12.0 12.0M272.7 357.3l12.0 12.0m0 -12.0l-12.0 12.0M273.0 331.8l12.0 12.0m0 -12.0l-12.0 12.0M273.8 366.9l12.0 12.0m0 -12.0l-12.0 12.0M274.3 340.9l12.0 12.0m0 -12.0l-12.0 12.0M274.8 337.7l12.0 12.0m0 -12.0l-12.0 12.0M274.9 364.3l12.0 12.0m0 -12.0l-12.0 12.0M275.6 352.0l12.0 12.0m0 -12.0l-12.0 12.0M276.1 354.1l12.0 12.0m0 -12.0l-12.0 12.0M276.8 347.6l12.0 12.0m0 -12.0l-12.0 12.0M277.5 347.8l12.0 12.0m0 -12.0l-12.0 12.0M277.9 344.7l12.0 12.0m0 -12.0l-12.0 12.0M278.4 368.9l12.0 12.0m0 -12.0l-12.0 12.0M278.9 342.4l12.0 12.0m0 -12.0l-12.0 12.0M279.5 339.6l12.0 12.0m0 -12.0l-12.0 12.0M280.1 370.4l12.0 12.0m0 -12.0l-12.0 12.0M280.5 356.5l12.0 12.0m0 -12.0l-12.0 12.0M280.8 351.1l12.0 12.0m0 -12.0l-12.0 12.0M281.3 356.5l12.0 12.0m0 -12.0l-12.0 12.0M281.9 361.7l12.0 12.0m0 -12.0l-12.0 12.0M282.7 359.6l12.0 12.0m0 -12.0l-12.0 12.0M283.1 352.9l12.0 12.0m0 -12.0l-12.0 12.0M283.6 371.5l12.0 12.0m0 -12.0l-12.0 12.0M284.3 354.0l12.0 12.0m0 -12.0l-12.0 12.0M284.4 338.1l12.0 12.0m0 -12.0l-12.0 12.0M284.9 343.0l12.0 12.0m0 -12.0l-12.0 12.0M285.9 361.9l12.0 12.0m0 -12.0l-12.0 12.0M286.0 366.1l12.0 12.0m0 -12.0l-12.0 12.0M286.7 351.6l12.0 12.0m0 -12.0l-12.0 12.0M287.5 352.2l12.0 12.0m0 -12.0l-12.0 12.0M287.7 339.0l12.0 12.0m0 -12.0l-12.0 12.0M288.2 352.2l12.0 12.0m0 -12.0l-12.0 12.0M288.7 346.4l12.0 12.0m0 -12.0l-12.0 12.0M289.2 342.4l12.0 12.0m0 -12.0l-12.0 12.0M290.0 354.5l12.0 12.0m0 -12.0l-12.0 12.0M290.3 357.0l12.0 12.0m0 -12.0l-12.0 12.0M290.7 366.2l12.0 12.0m0 -12.0l-12.0 12.0M291.4 371.9l12.0 12.0m0 -12.0l-12.0 12.0M292.2 355.3l12.0 12.0m0 -12.0l-12.0 12.0M292.8 351.5l12.0 12.0m0 -12.0l-12.0 12.0M293.3 367.0l12.0 12.0m0 -12.0l-12.0 12.0M293.5 360.0l12.0 12.0m0 -12.0l-12.0 12.0M293.9 351.4l12.0 12.0m0 -12.0l-12.0 12.0M294.7 362.0l12.0 12.0m0 -12.0l-12.0 12.0M295.3 350.8l12.0 12.0m0 -12.0l-12.0 12.0M295.7 351.9l12.0 12.0m0 -12.0l-12.0 12.0M296.2 356.6l12.0 12.0m0 -12.0l-12.0 12.0M296.7 359.2l12.0 12.0m0 -12.0l-12.0 12.0M297.0 338.8l12.0 12.0m0 -12.0l-12.0 12.0M297.7 361.7l12.0 12.0m0 -12.0l-12.0 12.0M298.2 344.5l12.0 12.0m0 -12.0l-12.0 12.0M299.0 349.2l12.0 12.0m0 -12.0l-12.0 12.0M299.4 354.9l12.0 12.0m0 -12.0l-12.0 12.0M300.0 355.8l12.0 12.0m0 -12.0l-12.0 12.0M300.6 361.2l12.0 12.0m0 -12.0l-12.0 12.0M301.1 347.3l12.0 12.0m0 -12.0l-12.0 12.0M301.3 347.3l12.0 12.0m0 -12.0l-12.0 12.0M302.1 340.5l12.0 12.0m0 -12.0l-12.0 12.0M302.6 348.9l12.0 12.0m0 -12.0l-12.0 12.0M303.1 358.6l12.0 12.0m0 -12.0l-12.0 12.0M303.8 363.8l12.0 12.0m0 -12.0l-12.0 12.0M304.3 357.7l12.0 12.0m0 -12.0l-12.0 12.0M304.4 352.9l12.0 12.0m0 -12.0l-12.0 12.0M305.0 340.1l12.0 12.0m0 -12.0l-12.0 12.0M305.4 362.9l12.0 12.0m0 -12.0l-12.0 12.0M306.2 359.8l12.0 12.0m0 -12.0l-12.0 12.0M306.8 357.5l12.0 12.0m0 -12.0l-12.0 12.0M307.2 347.2l12.0 12.0m0 -12.0l-12.0 12.0M307.7 346.5l12.0 12.0m0 -12.0l-12.0 12.0M308.1 344.0l12.0 12.0m0 -12.0l-12.0 12.0M309.0 371.9l12.0 12.0m0 -12.0l-12.0 12.0M309.1 371.3l12.0 12.0m0 -12.0l-12.0 12.0M309.9 370.3l12.0 12.0m0 -12.0l-12.0 12.0M310.5 358.0l12.0 12.0m0 -12.0l-12.0 12.0M310.8 367.6l12.0 12.0m0 -12.0l-12.0 12.0M311.6 343.0l12.0 12.0m0 -12.0l-12.0 12.0M312.2 368.1l12.0 12.0m0 -12.0l-12.0 12.0M312.4 335.7l12.0 12.0m0 -12.0l-12.0 12.0M313.2 348.9l12.0 12.0m0 -12.0l-12.0 12.0M313.5 351.2l12.0 12.0m0 -12.0l-12.0 12.0M314.2 359.0l12.0 12.0m0 -12.0l-12.0 12.0M314.3 368.7l12.0 12.0m0 -12.0l-12.0 12.0M315.1 362.9l12.0 12.0m0 -12.0l-12.0 12.0M315.7 348.5l12.0 12.0m0 -12.0l-12.0 12.0M315.9 375.2l12.0 12.0m0 -12.0l-12.0 12.0M316.5 352.3l12.0 12.0m0 -12.0l-12.0 12.0M317.1 350.6l12.0 12.0m0 -12.0l-12.0 12.0M317.8 351.4l12.0 12.0m0 -12.0l-12.0 12.0M318.1 345.5l12.0 12.0m0 -12.0l-12.0 12.0M318.7 353.1l12.0 12.0m0 -12.0l-12.0 12.0M319.1 343.2l12.0 12.0m0 -12.0l-12.0 12.0M319.9 343.2l12.0 12.0m0 -12.0l-12.0 12.0M320.6 366.2l12.0 12.0m0 -12.0l-12.0 12.0M321.0 347.9l12.0 12.0m0 -12.0l-12.0 12.0M321.3 349.7l12.0 12.0m0 -12.0l-12.0 12.0M322.2 366.2l12.0 12.0m0 -12.0l-12.0 12.0M322.7 354.9l12.0 12.0m0 -12.0l-12.0 12.0M322.9 366.5l12.0 12.0m0 -12.0l-12.0 12.0M323.4 345.0l12.0 12.0m0 -12.0l-12.0 12.0M323.9 362.3l12.0 12.0m0 -12.0l-12.0 12.0M324.6 359.3l12.0 12.0m0 -12.0l-12.0 12.0M325.3 339.9l12.0 12.0m0 -12.0l-12.0 12.0M325.6 364.1l12.0 12.0m0 -12.0l-12.0 12.0M326.3 373.5l12.0 12.0m0 -12.0l-12.0 12.0M326.5 369.5l12.0 12.0m0 -12.0l-12.0 12.0M327.2 356.8l12.0 12.0m0 -12.0l-12.0 12.0M327.7 372.4l12.0 12.0m0 -12.0l-12.0 12.0M328.4 350.8l12.0 12.0m0 -12.0l-12.0 12.0M328.5 333.6l12.0 12.0m0 -12.0l-12.0 12.0M329.1 348.2l12.0 12.0m0 -12.0l-12.0 12.0M329.6 352.4l12.0 12.0m0 -12.0l-12.0 12.0M330.1 350.0l12.0 12.0m0 -12.0l-12.0 12.0M331.0 349.4l12.0 12.0m0 -12.0l-12.0 12.0M331.5 354.8l12.0 12.0m0 -12.0l-12.0 12.0M332.0 363.4l12.0 12.0m0 -12.0l-12.0 12.0M332.4 355.7l12.0 12.0m0 -12.0l-12.0 12.0M332.9 342.0l12.0 12.0m0 -12.0l-12.0 12.0M333.7 347.6l12.0 12.0m0 -12.0l-12.0 12.0M334.0 341.5l12.0 12.0m0 -12.0l-12.0 12.0M334.7 347.3l12.0 12.0m0 -12.0l-12.0 12.0M335.0 363.1l12.0 12.0m0 -12.0l-12.0 12.0M335.8 338.2l12.0 12.0m0 -12.0l-12.0 12.0M336.3 367.8l12.0 12.0m0 -12.0l-12.0 12.0M336.9 332.1l12.0 12.0m0 -12.0l-12.0 12.0M337.2 335.4l12.0 12.0m0 -12.0l-12.0 12.0M337.8 351.8l12.0 12.0m0 -12.0l-12.0 12.0M338.2 348.7l12.0 12.0m0 -12.0l-12.0 12.0M338.9 358.2l12.0 12.0m0 -12.0l-12.0 12.0M339.6 349.6l12.0 12.0m0 -12.0l-12.0 12.0M339.8 360.1l12.0 12.0m0 -12.0l-12.0 12.0M340.5 346.4l12.0 12.0m0 -12.0l-12.0 12.0M340.9 352.8l12.0 12.0m0 -12.0l-12.0 12.0M341.9 360.7l12.0 12.0m0 -12.0l-12.0 12.0M342.6 357.0l12.0 12.0m0 -12.0l-12.0 12.0M343.0 359.1l12.0 12.0m0 -12.0l-12.0 12.0M343.7 357.9l12.0 12.0m0 -12.0l-12.0 12.0M344.1 353.4l12.0 12.0m0 -12.0l-12.0 12.0M344.7 357.0l12.0 12.0m0 -12.0l-12.0 12.0M345.7 363.9l12.0 12.0m0 -12.0l-12.0 12.0M346.2 356.6l12.0 12.0m0 -12.0l-12.0 12.0M346.7 362.9l12.0 12.0m0 -12.0l-12.0 12.0M347.2 355.9l12.0 12.0m0 -12.0l-12.0 12.0M348.1 345.1l12.0 12.0m0 -12.0l-12.0 12.0M348.9 346.3l12.0 12.0m0 -12.0l-12.0 12.0M349.6 356.9l12.0 12.0m0 -12.0l-12.0 12.0M350.2 348.0l12.0 12.0m0 -12.0l-12.0 12.0M350.8 368.5l12.0 12.0m0 -12.0l-12.0 12.0M351.2 357.2l12.0 12.0m0 -12.0l-12.0 12.0M352.1 360.5l12.0 12.0m0 -12.0l-12.0 12.0M352.6 346.9l12.0 12.0m0 -12.0l-12.0 12.0M353.1 366.4l12.0 12.0m0 -12.0l-12.0 12.0M353.5 373.7l12.0 12.0m0 -12.0l-12.0 12.0M354.1 356.9l12.0 12.0m0 -12.0l-12.0 12.0M354.6 347.8l12.0 12.0m0 -12.0l-12.0 12.0M355.7 360.4l12.0 12.0m0 -12.0l-12.0 12.0M356.3 354.1l12.0 12.0m0 -12.0l-12.0 12.0M356.6 355.2l12.0 12.0m0 -12.0l-12.0 12.0M357.3 358.1l12.0 12.0m0 -12.0l-12.0 12.0M358.1 358.4l12.0 12.0m0 -12.0l-12.0 12.0M358.5 372.2l12.0 12.0m0 -12.0l-12.0 12.0M359.5 360.5l12.0 12.0m0 -12.0l-12.0 12.0M360.2 362.4l12.0 12.0m0 -12.0l-12.0 12.0M360.4 357.2l12.0 12.0m0 -12.0l-12.0 12.0M361.3 370.1l12.0 12.0m0 -12.0l-12.0 12.0M361.8 367.6l12.0 12.0m0 -12.0l-12.0 12.0M362.7 346.1l12.0 12.0m0 -12.0l-12.0 12.0M362.9 352.3l12.0 12.0m0 -12.0l-12.0 12.0M363.9 344.4l12.0 12.0m0 -12.0l-12.0 12.0M364.1 372.3l12.0 12.0m0 -12.0l-12.0 12.0M365.1 365.4l12.0 12.0m0 -12.0l-12.0 12.0M365.6 373.4l12.0 12.0m0 -12.0l-12.0 12.0M366.0 366.5l12.0 12.0m0 -12.0l-12.0 12.0M366.7 356.4l12.0 12.0m0 -12.0l-12.0 12.0M367.2 359.8l12.0 12.0m0 -12.0l-12.0 12.0M368.2 372.5l12.0 12.0m0 -12.0l-12.0 12.0M368.6 362.0l12.0 12.0m0 -12.0l-12.0 12.0M369.2 360.1l12.0 12.0m0 -12.0l-12.0 12.0M369.9 360.7l12.0 12.0m0 -12.0l-12.0 12.0M370.7 372.3l12.0 12.0m0 -12.0l-12.0 12.0M371.3 365.0l12.0 12.0m0 -12.0l-12.0 12.0M371.6 356.2l12.0 12.0m0 -12.0l-12.0 12.0M372.1 361.1l12.0 12.0m0 -12.0l-12.0 12.0M373.4 366.7l12.0 12.0m0 -12.0l-12.0 12.0M373.8 360.0l12.0 12.0m0 -12.0l-12.0 12.0M374.2 358.3l12.0 12.0m0 -12.0l-12.0 12.0M374.8 372.2l12.0 12.0m0 -12.0l-12.0 12.0M375.5 356.2l12.0 12.0m0 -12.0l-12.0 12.0M376.0 372.6l12.0 12.0m0 -12.0l-12.0 12.0M376.6 364.6l12.0 12.0m0 -12.0l-12.0 12.0M377.7 358.5l12.0 12.0m0 -12.0l-12.0 12.0M378.1 364.3l12.0 12.0m0 -12.0l-12.0 12.0M378.9 358.6l12.0 12.0m0 -12.0l-12.0 12.0M379.1 367.7l12.0 12.0m0 -12.0l-12.0 12.0M380.0 368.2l12.0 12.0m0 -12.0l-12.0 12.0M380.7 368.9l12.0 12.0m0 -12.0l-12.0 12.0M381.4 372.7l12.0 12.0m0 -12.0l-12.0 12.0M381.9 370.3l12.0 12.0m0 -12.0l-12.0 12.0M382.2 368.6l12.0 12.0m0 -12.0l-12.0 12.0M382.8 363.2l12.0 12.0m0 -12.0l-12.0 12.0M384.0 367.4l12.0 12.0m0 -12.0l-12.0 12.0M384.3 354.9l12.0 12.0m0 -12.0l-12.0 12.0M385.1 365.0l12.0 12.0m0 -12.0l-12.0 12.0M385.8 360.7l12.0 12.0m0 -12.0l-12.0 12.0M386.1 370.3l12.0 12.0m0 -12.0l-12.0 12.0M386.5 356.4l12.0 12.0m0 -12.0l-12.0 12.0M387.7 372.7l12.0 12.0m0 -12.0l-12.0 12.0M388.2 360.5l12.0 12.0m0 -12.0l-12.0 12.0M388.4 357.4l12.0 12.0m0 -12.0l-12.0 12.0M389.2 360.1l12.0 12.0m0 -12.0l-12.0 12.0M389.7 375.0l12.0 12.0m0 -12.0l-12.0 12.0M390.5 353.1l12.0 12.0m0 -12.0l-12.0 12.0M391.4 365.4l12.0 12.0m0 -12.0l-12.0 12.0M391.9 372.9l12.0 12.0m0 -12.0l-12.0 12.0M392.7 376.6l12.0 12.0m0 -12.0l-12.0 12.0M393.1 361.0l12.0 12.0m0 -12.0l-12.0 12.0M393.5 373.1l12.0 12.0m0 -12.0l-12.0 12.0M394.4 375.0l12.0 12.0m0 -12.0l-12.0 12.0M395.1 365.5l12.0 12.0m0 -12.0l-12.0 12.0M395.8 371.9l12.0 12.0m0 -12.0l-12.0 12.0M396.3 367.2l12.0 12.0m0 -12.0l-12.0 12.0M396.7 369.1l12.0 12.0m0 -12.0l-12.0 12.0M397.5 364.1l12.0 12.0m0 -12.0l-12.0 12.0M398.3 360.1l12.0 12.0m0 -12.0l-12.0 12.0M398.6 362.6l12.0 12.0m0 -12.0l-12.0 12.0M399.6 367.1l12.0 12.0m0 -12.0l-12.0 12.0M399.7 373.7l12.0 12.0m0 -12.0l-12.0 12.0M400.6 361.1l12.0 12.0m0 -12.0l-12.0 12.0M401.2 364.8l12.0 12.0m0 -12.0l-12.0 12.0M402.1 370.3l12.0 12.0m0 -12.0l-12.0 12.0M402.2 357.3l12.0 12.0m0 -12.0l-12.0 12.0M403.3 362.5l12.0 12.0m0 -12.0l-12.0 12.0M403.5 354.0l12.0 12.0m0 -12.0l-12.0 12.0M404.1 360.1l12.0 12.0m0 -12.0l-12.0 12.0M405.0 367.9l12.0 12.0m0 -12.0l-12.0 12.0M405.4 367.1l12.0 12.0m0 -12.0l-12.0 12.0M406.5 376.1l12.0 12.0m0 -12.0l-12.0 12.0M406.7 362.3l12.0 12.0m0 -12.0l-12.0 12.0M407.5 365.7l12.0 12.0m0 -12.0l-12.0 12.0M408.1 359.2l12.0 12.0m0 -12.0l-12.0 12.0M408.9 371.1l12.0 12.0m0 -12.0l-12.0 12.0M409.3 366.7l12.0 12.0m0 -12.0l-12.0 12.0M409.7 359.1l12.0 12.0m0 -12.0l-12.0 12.0M410.4 372.4l12.0 12.0m0 -12.0l-12.0 12.0M411.2 365.4l12.0 12.0m0 -12.0l-12.0 12.0M411.7 375.6l12.0 12.0m0 -12.0l-12.0 12.0M412.5 376.8l12.0 12.0m0 -12.0l-12.0 12.0M412.8 368.8l12.0 12.0m0 -12.0l-12.0 12.0M414.0 359.6l12.0 12.0m0 -12.0l-12.0 12.0M414.3 361.4l12.0 12.0m0 -12.0l-12.0 12.0M415.0 361.7l12.0 12.0m0 -12.0l-12.0 12.0M415.7 355.0l12.0 12.0m0 -12.0l-12.0 12.0M416.2 365.8l12.0 12.0m0 -12.0l-12.0 12.0M417.0 359.8l12.0 12.0m0 -12.0l-12.0 12.0M417.5 370.4l12.0 12.0m0 -12.0l-12.0 12.0M418.3 357.7l12.0 12.0m0 -12.0l-12.0 12.0M418.6 364.9l12.0 12.0m0 -12.0l-12.0 12.0M419.6 365.3l12.0 12.0m0 -12.0l-12.0 12.0M420.1 368.5l12.0 12.0m0 -12.0l-12.0 12.0M420.8 365.3l12.0 12.0m0 -12.0l-12.0 12.0M421.3 356.9l12.0 12.0m0 -12.0l-12.0 12.0M421.7 364.1l12.0 12.0m0 -12.0l-12.0 12.0M422.2 364.9l12.0 12.0m0 -12.0l-12.0 12.0M423.0 359.3l12.0 12.0m0 -12.0l-12.0 12.0M423.4 366.3l12.0 12.0m0 -12.0l-12.0 12.0M424.5 361.3l12.0 12.0m0 -12.0l-12.0 12.0M424.9 365.5l12.0 12.0m0 -12.0l-12.0 12.0M425.7 366.6l12.0 12.0m0 -12.0l-12.0 12.0M426.8 369.0l12.0 12.0m0 -12.0l-12.0 12.0M427.5 359.4l12.0 12.0m0 -12.0l-12.0 12.0M427.9 354.4l12.0 12.0m0 -12.0l-12.0 12.0M428.9 368.5l12.0 12.0m0 -12.0l-12.0 12.0M429.4 377.7l12.0 12.0m0 -12.0l-12.0 12.0M430.4 376.4l12.0 12.0m0 -12.0l-12.0 12.0M430.5 373.5l12.0 12.0m0 -12.0l-12.0 12.0M431.5 366.7l12.0 12.0m0 -12.0l-12.0 12.0M432.0 366.4l12.0 12.0m0 -12.0l-12.0 12.0M432.8 365.4l12.0 12.0m0 -12.0l-12.0 12.0M433.9 368.7l12.0 12.0m0 -12.0l-12.0 12.0M434.6 361.4l12.0 12.0m0 -12.0l-12.0 12.0M435.1 370.3l12.0 12.0m0 -12.0l-12.0 12.0M435.5 369.3l12.0 12.0m0 -12.0l-12.0 12.0M436.4 366.7l12.0 12.0m0 -12.0l-12.0 12.0M437.6 362.0l12.0 12.0m0 -12.0l-12.0 12.0M437.8 367.3l12.0 12.0m0 -12.0l-12.0 12.0M438.9 370.1l12.0 12.0m0 -12.0l-12.0 12.0M439.6 363.8l12.0 12.0m0 -12.0l-12.0 12.0M440.0 362.4l12.0 12.0m0 -12.0l-12.0 12.0M441.1 367.2l12.0 12.0m0 -12.0l-12.0 12.0M441.9 369.3l12.0 12.0m0 -12.0l-12.0 12.0M442.0 375.7l12.0 12.0m0 -12.0l-12.0 12.0M443.2 369.6l12.0 12.0m0 -12.0l-12.0 12.0M443.8 367.5l12.0 12.0m0 -12.0l-12.0 12.0M444.2 377.6l12.0 12.0m0 -12.0l-12.0 12.0M445.2 358.5l12.0 12.0m0 -12.0l-12.0 12.0M445.5 361.2l12.0 12.0m0 -12.0l-12.0 12.0M446.5 370.7l12.0 12.0m0 -12.0l-12.0 12.0M447.1 368.8l12.0 12.0m0 -12.0l-12.0 12.0M448.1 367.9l12.0 12.0m0 -12.0l-12.0 12.0M448.5 370.5l12.0 12.0m0 -12.0l-12.0 12.0M449.5 368.1l12.0 12.0m0 -12.0l-12.0 12.0M450.2 360.2l12.0 12.0m0 -12.0l-12.0 12.0M451.1 362.4l12.0 12.0m0 -12.0l-12.0 12.0M451.4 363.9l12.0 12.0m0 -12.0l-12.0 12.0M452.5 363.8l12.0 12.0m0 -12.0l-12.0 12.0M453.0 361.8l12.0 12.0m0 -12.0l-12.0 12.0M453.3 373.8l12.0 12.0m0 -12.0l-12.0 12.0M454.4 365.7l12.0 12.0m0 -12.0l-12.0 12.0M455.1 375.3l12.0 12.0m0 -12.0l-12.0 12.0M455.6 369.1l12.0 12.0m0 -12.0l-12.0 12.0M456.3 367.4l12.0 12.0m0 -12.0l-12.0 12.0M457.1 363.8l12.0 12.0m0 -12.0l-12.0 12.0M458.1 366.6l12.0 12.0m0 -12.0l-12.0 12.0M458.7 372.0l12.0 12.0m0 -12.0l-12.0 12.0M459.1 354.4l12.0 12.0m0 -12.0l-12.0 12.0M459.7 355.5l12.0 12.0m0 -12.0l-12.0 12.0M460.7 369.2l12.0 12.0m0 -12.0l-12.0 12.0M461.8 362.2l12.0 12.0m0 -12.0l-12.0 12.0M462.3 366.5l12.0 12.0m0 -12.0l-12.0 12.0M463.0 360.2l12.0 12.0m0 -12.0l-12.0 12.0M463.8 374.2l12.0 12.0m0 -12.0l-12.0 12.0M464.4 353.4l12.0 12.0m0 -12.0l-12.0 12.0M465.2 366.0l12.0 12.0m0 -12.0l-12.0 12.0M465.8 370.5l12.0 12.0m0 -12.0l-12.0 12.0M466.7 365.2l12.0 12.0m0 -12.0l-12.0 12.0M467.0 362.6l12.0 12.0m0 -12.0l-12.0 12.0M467.9 363.4l12.0 12.0m0 -12.0l-12.0 12.0M468.8 369.2l12.0 12.0m0 -12.0l-12.0 12.0M469.2 354.8l12.0 12.0m0 -12.0l-12.0 12.0M470.1 368.1l12.0 12.0m0 -12.0l-12.0 12.0M470.8 375.3l12.0 12.0m0 -12.0l-12.0 12.0M471.2 357.7l12.0 12.0m0 -12.0l-12.0 12.0M472.3 360.4l12.0 12.0m0 -12.0l-12.0 12.0M473.2 368.2l12.0 12.0m0 -12.0l-12.0 12.0M473.3 370.0l12.0 12.0m0 -12.0l-12.0 12.0M474.4 359.8l12.0 12.0m0 -12.0l-12.0 12.0M474.9 369.4l12.0 12.0m0 -12.0l-12.0 12.0M476.0 373.0l12.0 12.0m0 -12.0l-12.0 12.0M476.5 355.0l12.0 12.0m0 -12.0l-12.0 12.0M477.0 363.3l12.0 12.0m0 -12.0l-12.0 12.0M477.7 365.8l12.0 12.0m0 -12.0l-12.0 12.0M478.5 368.4l12.0 12.0m0 -12.0l-12.0 12.0M479.4 361.4l12.0 12.0m0 -12.0l-12.0 12.0M480.1 365.7l12.0 12.0m0 -12.0l-12.0 12.0M480.5 368.4l12.0 12.0m0 -12.0l-12.0 12.0M481.3 362.9l12.0 12.0m0 -12.0l-12.0 12.0M482.0 362.0l12.0 12.0m0 -12.0l-12.0 12.0M483.1 354.8l12.0 12.0m0 -12.0l-12.0 12.0M483.3 361.2l12.0 12.0m0 -12.0l-12.0 12.0M484.2 370.0l12.0 12.0m0 -12.0l-12.0 12.0M485.4 374.1l12.0 12.0m0 -12.0l-12.0 12.0M486.0 368.7l12.0 12.0m0 -12.0l-12.0 12.0M486.8 371.2l12.0 12.0m0 -12.0l-12.0 12.0M487.4 372.5l12.0 12.0m0 -12.0l-12.0 12.0M487.6 367.5l12.0 12.0m0 -12.0l-12.0 12.0M488.4 362.3l12.0 12.0m0 -12.0l-12.0 12.0M489.3 370.2l12.0 12.0m0 -12.0l-12.0 12.0M489.8 371.4l12.0 12.0m0 -12.0l-12.0 12.0M491.0 366.2l12.0 12.0m0 -12.0l-12.0 12.0M491.3 361.9l12.0 12.0m0 -12.0l-12.0 12.0M492.3 367.1l12.0 12.0m0 -12.0l-12.0 12.0M493.2 374.1l12.0 12.0m0 -12.0l-12.0 12.0M493.5 357.0l12.0 12.0m0 -12.0l-12.0 12.0M494.4 373.3l12.0 12.0m0 -12.0l-12.0 12.0M495.2 368.4l12.0 12.0m0 -12.0l-12.0 12.0M495.5 361.1l12.0 12.0m0 -12.0l-12.0 12.0M496.8 375.2l12.0 12.0m0 -12.0l-12.0 12.0M497.3 372.3l12.0 12.0m0 -12.0l-12.0 12.0M497.9 362.0l12.0 12.0m0 -12.0l-12.0 12.0M498.9 358.4l12.0 12.0m0 -12.0l-12.0 12.0M499.2 374.6l12.0 12.0m0 -12.0l-12.0 12.0M500.0 370.2l12.0 12.0m0 -12.0l-12.0 12.0M500.5 374.4l12.0 12.0m0 -12.0l-12.0 12.0M501.3 368.4l12.0 12.0m0 -12.0l-12.0 12.0M502.1 374.0l12.0 12.0m0 -12.0l-12.0 12.0M502.9 376.7l12.0 12.0m0 -12.0l-12.0 12.0M503.9 366.4l12.0 12.0m0 -12.0l-12.0 12.0M504.1 364.9l12.0 12.0m0 -12.0l-12.0 12.0M505.2 368.6l12.0 12.0m0 -12.0l-12.0 12.0M505.7 366.7l12.0 12.0m0 -12.0l-12.0 12.0M506.3 368.1l12.0 12.0m0 -12.0l-12.0 12.0M507.0 355.3l12.0 12.0m0 -12.0l-12.0 12.0M508.1 376.1l12.0 12.0m0 -12.0l-12.0 12.0M508.5 364.4l12.0 12.0m0 -12.0l-12.0 12.0M509.7 369.8l12.0 12.0m0 -12.0l-12.0 12.0M510.0 367.9l12.0 12.0m0 -12.0l-12.0 12.0M511.1 356.5l12.0 12.0m0 -12.0l-12.0 12.0M511.2 364.1l12.0 12.0m0 -12.0l-12.0 12.0M511.9 372.7l12.0 12.0m0 -12.0l-12.0 12.0M513.2 361.8l12.0 12.0m0 -12.0l-12.0 12.0M513.7 376.9l12.0 12.0m0 -12.0l-12.0 12.0M514.0 363.1l12.0 12.0m0 -12.0l-12.0 12.0M514.7 369.9l12.0 12.0m0 -12.0l-12.0 12.0M515.5 365.6l12.0 12.0m0 -12.0l-12.0 12.0M516.4 366.0l12.0 12.0m0 -12.0l-12.0 12.0M517.2 363.6l12.0 12.0m0 -12.0l-12.0 12.0M518.1 366.0l12.0 12.0m0 -12.0l-12.0 12.0M518.5 365.5l12.0 12.0m0 -12.0l-12.0 12.0M519.1 357.5l12.0 12.0m0 -12.0l-12.0 12.0M519.9 365.0l12.0 12.0m0 -12.0l-12.0 12.0M520.7 377.0l12.0 12.0m0 -12.0l-12.0 12.0M521.4 370.1l12.0 12.0m0 -12.0l-12.0 12.0M522.1 363.5l12.0 12.0m0 -12.0l-12.0 12.0M522.8 367.4l12.0 12.0m0 -12.0l-12.0 12.0M523.3 368.8l12.0 12.0m0 -12.0l-12.0 12.0M524.5 356.3l12.0 12.0m0 -12.0l-12.0 12.0M525.4 362.4l12.0 12.0m0 -12.0l-12.0 12.0M525.6 360.2l12.0 12.0m0 -12.0l-12.0 12.0M526.3 354.6l12.0 12.0m0 -12.0l-12.0 12.0M527.3 359.3l12.0 12.0m0 -12.0l-12.0 12.0M528.2 368.1l12.0 12.0m0 -12.0l-12.0 12.0M528.3 376.2l12.0 12.0m0 -12.0l-12.0 12.0M529.3 365.6l12.0 12.0m0 -12.0l-12.0 12.0M530.0 368.8l12.0 12.0m0 -12.0l-12.0 12.0M530.7 362.3l12.0 12.0m0 -12.0l-12.0 12.0M531.3 367.6l12.0 12.0m0 -12.0l-12.0 12.0M532.1 363.8l12.0 12.0m0 -12.0l-12.0 12.0M533.0 368.2l12.0 12.0m0 -12.0l-12.0 12.0M533.5 372.4l12.0 12.0m0 -12.0l-12.0 12.0M534.3 370.8l12.0 12.0m0 -12.0l-12.0 12.0M534.8 359.3l12.0 12.0m0 -12.0l-12.0 12.0M535.8 363.0l12.0 12.0m0 -12.0l-12.0 12.0M536.6 373.9l12.0 12.0m0 -12.0l-12.0 12.0M537.1 368.8l12.0 12.0m0 -12.0l-12.0 12.0M537.6 366.2l12.0 12.0m0 -12.0l-12.0 12.0M538.6 369.1l12.0 12.0m0 -12.0l-12.0 12.0M539.4 362.7l12.0 12.0m0 -12.0l-12.0 12.0M539.9 369.1l12.0 12.0m0 -12.0l-12.0 12.0M540.4 360.7l12.0 12.0m0 -12.0l-12.0 12.0M541.5 378.7l12.0 12.0m0 -12.0l-12.0 12.0M542.0 366.3l12.0 12.0m0 -12.0l-12.0 12.0M542.9 364.9l12.0 12.0m0 -12.0l-12.0 12.0M543.7 373.8l12.0 12.0m0 -12.0l-12.0 12.0M544.4 366.8l12.0 12.0m0 -12.0l-12.0 12.0M545.4 369.6l12.0 12.0m0 -12.0l-12.0 12.0M545.9 360.1l12.0 12.0m0 -12.0l-12.0 12.0M546.4 364.4l12.0 12.0m0 -12.0l-12.0 12.0M547.4 371.0l12.0 12.0m0 -12.0l-12.0 12.0M548.2 359.0l12.0 12.0m0 -12.0l-12.0 12.0M548.3 377.4l12.0 12.0m0 -12.0l-12.0 12.0M549.1 363.6l12.0 12.0m0 -12.0l-12.0 12.0M550.0 368.5l12.0 12.0m0 -12.0l-12.0 12.0M551.1 371.1l12.0 12.0m0 -12.0l-12.0 12.0M551.3 371.9l12.0 12.0m0 -12.0l-12.0 12.0M552.3 368.9l12.0 12.0m0 -12.0l-12.0 12.0M553.0 369.2l12.0 12.0m0 -12.0l-12.0 12.0M553.6 369.4l12.0 12.0m0 -12.0l-12.0 12.0M554.8 375.7l12.0 12.0m0 -12.0l-12.0 12.0M555.9 363.9l12.0 12.0m0 -12.0l-12.0 12.0M557.5 364.1l12.0 12.0m0 -12.0l-12.0 12.0M559.0 366.5l12.0 12.0m0 -12.0l-12.0 12.0M117.5 332.4l12.0 12.0m0 -12.0l-12.0 12.0M152.9 329.8l12.0 12.0m0 -12.0l-12.0 12.0M144.2 380.6l12.0 12.0m0 -12.0l-12.0 12.0M174.5 388.5l12.0 12.0m0 -12.0l-12.0 12.0M251.0 327.0l12.0 12.0m0 -12.0l-12.0 12.0M287.7 321.4l12.0 12.0m0 -12.0l-12.0 12.0M346.7 329.8l12.0 12.0m0 -12.0l-12.0 12.0M337.0 384.0l12.0 12.0m0 -12.0l-12.0 12.0M412.4 340.3l12.0 12.0m0 -12.0l-12.0 12.0M442.4 335.9l12.0 12.0m0 -12.0l-12.0 12.0M450.3 343.8l12.0 12.0m0 -12.0l-12.0 12.0M480.0 340.3l12.0 12.0m0 -12.0l-12.0 12.0M459.0 351.7l12.0 12.0m0 -12.0l-12.0 12.0M476.5 350.8l12.0 12.0m0 -12.0l-12.0 12.0M483.6 351.7l12.0 12.0m0 -12.0l-12.0 12.0M494.0 351.7l12.0 12.0m0 -12.0l-12.0 12.0M502.8 352.5l12.0 12.0m0 -12.0l-12.0 12.0M511.6 354.3l12.0 12.0m0 -12.0l-12.0 12.0M522.0 356.0l12.0 12.0m0 -12.0l-12.0 12.0M369.4 379.7l12.0 12.0m0 -12.0l-12.0 12.0M396.6 380.6l12.0 12.0m0 -12.0l-12.0 12.0M303.5 376.2l12.0 12.0m0 -12.0l-12.0 12.0M92.1 348.2l12.0 12.0m0 -12.0l-12.0 12.0M95.6 348.2l12.0 12.0m0 -12.0l-12.0 12.0M632.5 366.7l12.0 12.0m0 -12.0l-12.0 12.0M630.0 374.0l12.0 12.0m0 -12.0l-12.0 12.0M626.4 370.4l12.0 12.0m0 -12.0l-12.0 12.0M624.9 376.2l12.0 12.0m0 -12.0l-12.0 12.0M608.9 367.5l12.0 12.0m0 -12.0l-12.0 12.0M613.2 370.4l12.0 12.0m0 -12.0l-12.0 12.0M616.9 366.7l12.0 12.0m0 -12.0l-12.0 12.0M610.3 375.5l12.0 12.0m0 -12.0l-12.0 12.0M617.6 375.5l12.0 12.0m0 -12.0l-12.0 12.0M606.7 373.3l12.0 12.0m0 -12.0l-12.0 12.0M582.9 367.5l12.0 12.0m0 -12.0l-12.0 12.0M587.7 367.5l12.0 12.0m0 -12.0l-12.0 12.0M592.8 367.5l12.0 12.0m0 -12.0l-12.0 12.0M597.9 366.7l12.0 12.0m0 -12.0l-12.0 12.0M600.8 367.5l12.0 12.0m0 -12.0l-12.0 12.0M568.0 368.2l12.0 12.0m0 -12.0l-12.0 12.0M571.6 370.4l12.0 12.0m0 -12.0l-12.0 12.0M574.5 363.1l12.0 12.0m0 -12.0l-12.0 12.0M576.0 368.2l12.0 12.0m0 -12.0l-12.0 12.0M570.9 374.0l12.0 12.0m0 -12.0l-12.0 12.0M565.1 371.8l12.0 12.0m0 -12.0l-12.0 12.0M578.2 365.3l12.0 12.0m0 -12.0l-12.0 12.0M105.3 344.7l12.0 12.0m0 -12.0l-12.0 12.0M102.7 349.0l12.0 12.0m0 -12.0l-12.0 12.0M107.9 348.2l12.0 12.0m0 -12.0l-12.0 12.0M112.3 346.4l12.0 12.0m0 -12.0l-12.0 12.0M114.0 351.7l12.0 12.0m0 -12.0l-12.0 12.0M116.7 343.8l12.0 12.0m0 -12.0l-12.0 12.0M119.3 349.0l12.0 12.0m0 -12.0l-12.0 12.0M121.9 345.5l12.0 12.0m0 -12.0l-12.0 12.0M122.8 352.5l12.0 12.0m0 -12.0l-12.0 12.0M120.2 356.0l12.0 12.0m0 -12.0l-12.0 12.0M125.4 349.9l12.0 12.0m0 -12.0l-12.0 12.0M126.3 342.0l12.0 12.0m0 -12.0l-12.0 12.0M128.0 355.2l12.0 12.0m0 -12.0l-12.0 12.0M124.5 357.8l12.0 12.0m0 -12.0l-12.0 12.0M136.8 335.9l12.0 12.0m0 -12.0l-12.0 12.0M132.4 340.3l12.0 12.0m0 -12.0l-12.0 12.0M139.4 342.0l12.0 12.0m0 -12.0l-12.0 12.0M135.0 346.4l12.0 12.0m0 -12.0l-12.0 12.0M131.6 351.7l12.0 12.0m0 -12.0l-12.0 12.0M138.6 350.8l12.0 12.0m0 -12.0l-12.0 12.0M136.8 356.9l12.0 12.0m0 -12.0l-12.0 12.0M141.2 358.7l12.0 12.0m0 -12.0l-12.0 12.0M142.0 347.3l12.0 12.0m0 -12.0l-12.0 12.0M158.7 335.0l12.0 12.0m0 -12.0l-12.0 12.0M149.0 338.5l12.0 12.0m0 -12.0l-12.0 12.0M154.3 342.0l12.0 12.0m0 -12.0l-12.0 12.0M145.6 343.8l12.0 12.0m0 -12.0l-12.0 12.0M150.8 349.0l12.0 12.0m0 -12.0l-12.0 12.0M156.0 347.3l12.0 12.0m0 -12.0l-12.0 12.0M147.3 353.4l12.0 12.0m0 -12.0l-12.0 12.0M152.6 356.0l12.0 12.0m0 -12.0l-12.0 12.0M157.8 353.4l12.0 12.0m0 -12.0l-12.0 12.0M149.0 360.4l12.0 12.0m0 -12.0l-12.0 12.0M156.0 361.3l12.0 12.0m0 -12.0l-12.0 12.0M160.5 342.0l12.0 12.0m0 -12.0l-12.0 12.0M161.3 357.8l12.0 12.0m0 -12.0l-12.0 12.0M158.7 368.3l12.0 12.0m0 -12.0l-12.0 12.0M154.3 366.6l12.0 12.0m0 -12.0l-12.0 12.0"/>
</g>
</g>
<rect x="66.9" y="0.9" width="607.6" height="394.3" fill="none" stroke="#000" stroke-width="1.4"/>
<g stroke="#000" stroke-width="1.4">
<line x1="66.90" y1="395.2" x2="66.90" y2="401.4"/>
<line x1="153.70" y1="395.2" x2="153.70" y2="401.4"/>
<line x1="240.50" y1="395.2" x2="240.50" y2="401.4"/>
<line x1="327.30" y1="395.2" x2="327.30" y2="401.4"/>
<line x1="414.10" y1="395.2" x2="414.10" y2="401.4"/>
<line x1="500.90" y1="395.2" x2="500.90" y2="401.4"/>
<line x1="587.70" y1="395.2" x2="587.70" y2="401.4"/>
<line x1="674.50" y1="395.2" x2="674.50" y2="401.4"/>
<line x1="66.9" y1="395.20" x2="60.7" y2="395.20"/>
<line x1="66.9" y1="343.06" x2="60.7" y2="343.06"/>
<line x1="66.9" y1="290.91" x2="60.7" y2="290.91"/>
<line x1="66.9" y1="238.77" x2="60.7" y2="238.77"/>
<line x1="66.9" y1="186.63" x2="60.7" y2="186.63"/>
<line x1="66.9" y1="134.49" x2="60.7" y2="134.49"/>
<line x1="66.9" y1="82.34" x2="60.7" y2="82.34"/>
<line x1="66.9" y1="30.20" x2="60.7" y2="30.20"/>
</g>
<g font-size="18.7px">
<text x="66.90" y="422.0" text-anchor="middle" font-size="18.4px">−5</text>
<text x="153.70" y="422.0" text-anchor="middle" font-size="18.4px">0</text>
<text x="240.50" y="422.0" text-anchor="middle" font-size="18.4px">5</text>
<text x="327.30" y="422.0" text-anchor="middle" font-size="18.4px">10</text>
<text x="414.10" y="422.0" text-anchor="middle" font-size="18.4px">15</text>
<text x="500.90" y="422.0" text-anchor="middle" font-size="18.4px">20</text>
<text x="587.70" y="422.0" text-anchor="middle" font-size="18.4px">25</text>
<text x="674.50" y="422.0" text-anchor="middle" font-size="18.4px">30</text>
<text x="53.6" y="402.40" text-anchor="end" font-size="18.1px">0.0</text>
<text x="53.6" y="350.26" text-anchor="end" font-size="18.1px">0.2</text>
<text x="53.6" y="298.11" text-anchor="end" font-size="18.1px">0.4</text>
<text x="53.6" y="245.97" text-anchor="end" font-size="18.1px">0.6</text>
<text x="53.6" y="193.83" text-anchor="end" font-size="18.1px">0.8</text>
<text x="53.6" y="141.69" text-anchor="end" font-size="18.1px">1.0</text>
<text x="53.6" y="89.54" text-anchor="end" font-size="18.1px">1.2</text>
<text x="53.6" y="37.40" text-anchor="end" font-size="18.1px">1.4</text>
<text x="370.4" y="447.2" text-anchor="middle" font-size="18.5px">Outdoor Temperature [°C]</text>
<text transform="translate(15.0 198.3) rotate(-90)" text-anchor="middle" font-size="18.3px">Power [kW]</text>
</g>
<rect x="467.2" y="9.9" width="198.8" height="59.1" rx="3.5" fill="#fff" fill-opacity="0.8" stroke="#ccc" stroke-width="1.4"/>
<circle cx="492.9" cy="24.6" r="4.1" fill="#f00"/>
<path d="M486.9 45.6l12.0 12.0m0 -12.0l-12.0 12.0" stroke="#00f" stroke-width="1.9" fill="none"/>
<g font-size="18.2px"><text x="526.2" y="31.2">Space Heating</text><text x="526.2" y="57.5">Hot Water</text></g>
</svg></body></html>
